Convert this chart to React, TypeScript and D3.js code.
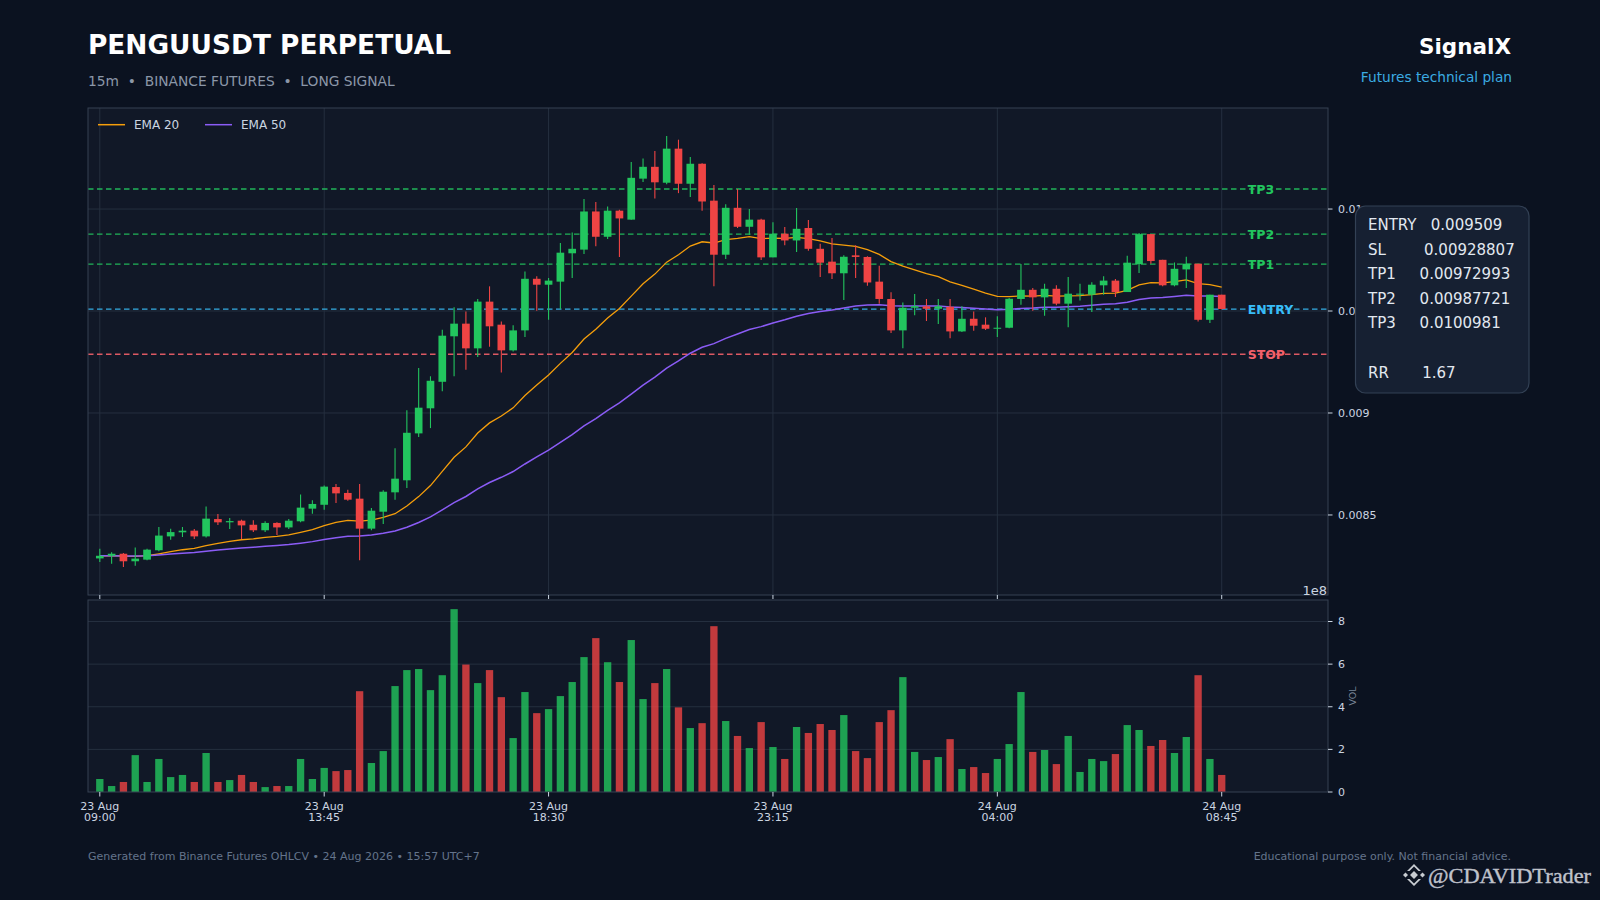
import { useEffect } from "react";
import * as d3 from "d3";

// 15m candles, 23 Aug 09:00 -> 24 Aug 08:45 (96 bars)
const opens = [
  0.008287, 0.0083, 0.00831, 0.008273, 0.008281, 0.008327, 0.008395, 0.008415, 0.008423, 0.008395,
  0.00848, 0.008464, 0.008472, 0.008452, 0.008425, 0.008461, 0.008439, 0.008469, 0.008531, 0.00855,
  0.008637, 0.008608, 0.00858, 0.008433, 0.008516, 0.008611, 0.00867, 0.0089, 0.009023, 0.009153,
  0.009376, 0.009438, 0.009317, 0.009546, 0.009433, 0.009307, 0.009405, 0.009658, 0.009629, 0.009644,
  0.009783, 0.009801, 0.009988, 0.009864, 0.009992, 0.009948, 0.010149, 0.010207, 0.010129, 0.010296,
  0.010124, 0.010222, 0.010041, 0.009776, 0.010006, 0.009913, 0.009948, 0.009763, 0.009879, 0.009846,
  0.009907, 0.009805, 0.009742, 0.009685, 0.009773, 0.009765, 0.009644, 0.009559, 0.009405, 0.009516,
  0.009523, 0.009511, 0.009521, 0.0094, 0.009462, 0.009433, 0.009413, 0.009418, 0.009559, 0.009604,
  0.009567, 0.009609, 0.009536, 0.00958, 0.00958, 0.009626, 0.009649, 0.009593, 0.00973, 0.009877,
  0.009751, 0.009626, 0.009704, 0.009732, 0.009457, 0.00958,
];
const highs = [
  0.008335, 0.008317, 0.008314, 0.008341, 0.008335, 0.008441, 0.008432, 0.008441, 0.008431, 0.008542,
  0.008505, 0.008485, 0.008477, 0.008474, 0.008469, 0.008464, 0.00848, 0.008601, 0.008572, 0.008644,
  0.008652, 0.008624, 0.008652, 0.008534, 0.008621, 0.008827, 0.009013, 0.00922, 0.00918, 0.009408,
  0.009519, 0.009498, 0.009559, 0.009621, 0.009449, 0.00943, 0.009694, 0.00967, 0.009662, 0.009833,
  0.009885, 0.010049, 0.010034, 0.010013, 0.009996, 0.01023, 0.010248, 0.010284, 0.010358, 0.01034,
  0.010255, 0.010225, 0.010118, 0.010024, 0.010098, 0.01, 0.009952, 0.009935, 0.009912, 0.010005,
  0.009946, 0.00983, 0.009858, 0.009774, 0.009822, 0.009768, 0.009722, 0.009592, 0.009542, 0.009583,
  0.009559, 0.009559, 0.009559, 0.009523, 0.009498, 0.009469, 0.009474, 0.009564, 0.00973, 0.009613,
  0.009634, 0.009626, 0.009667, 0.009634, 0.009641, 0.00967, 0.009657, 0.009771, 0.009882, 0.009877,
  0.009751, 0.009738, 0.009766, 0.009732, 0.00958, 0.00958,
];
const lows = [
  0.008269, 0.008261, 0.008245, 0.008251, 0.008278, 0.008322, 0.008379, 0.008392, 0.008382, 0.00839,
  0.008451, 0.008431, 0.008382, 0.008417, 0.008417, 0.008402, 0.008431, 0.008464, 0.008506, 0.008526,
  0.008559, 0.00857, 0.008278, 0.008425, 0.008456, 0.008575, 0.008632, 0.008882, 0.008926, 0.009106,
  0.00918, 0.009212, 0.009274, 0.009325, 0.009199, 0.009302, 0.009372, 0.009501, 0.009457, 0.00951,
  0.009662, 0.009779, 0.009817, 0.009853, 0.009765, 0.009948, 0.010132, 0.010052, 0.010122, 0.010078,
  0.010059, 0.009992, 0.009621, 0.009755, 0.009907, 0.009874, 0.00975, 0.009763, 0.009822, 0.009789,
  0.009796, 0.009667, 0.009657, 0.009554, 0.009662, 0.009624, 0.009536, 0.009392, 0.009318, 0.009479,
  0.009451, 0.009436, 0.009366, 0.009397, 0.009403, 0.009407, 0.009372, 0.009416, 0.009531, 0.009501,
  0.009477, 0.009528, 0.009421, 0.009551, 0.009495, 0.00958, 0.009569, 0.009593, 0.009686, 0.009732,
  0.009621, 0.009621, 0.009613, 0.009449, 0.009441, 0.009507,
];
const closes = [
  0.0083, 0.00831, 0.008273, 0.008286, 0.00833, 0.008399, 0.008416, 0.008423, 0.008395, 0.008482,
  0.008464, 0.00847, 0.008449, 0.008425, 0.008461, 0.008439, 0.008472, 0.008536, 0.008554, 0.008639,
  0.008606, 0.008575, 0.008433, 0.008521, 0.008614, 0.008678, 0.008903, 0.009026, 0.009158, 0.009379,
  0.009438, 0.009317, 0.009546, 0.009425, 0.009307, 0.009405, 0.009658, 0.009629, 0.009649, 0.009786,
  0.009805, 0.009988, 0.009864, 0.009992, 0.009954, 0.010153, 0.010207, 0.010131, 0.010296, 0.010124,
  0.010222, 0.010037, 0.009776, 0.010006, 0.009913, 0.009948, 0.009763, 0.009879, 0.009846, 0.009903,
  0.009805, 0.009737, 0.009685, 0.009766, 0.009765, 0.00964, 0.009559, 0.009405, 0.009516, 0.009524,
  0.009511, 0.009523, 0.0094, 0.009462, 0.009428, 0.009413, 0.009418, 0.00956, 0.009604, 0.009567,
  0.009609, 0.009536, 0.009585, 0.009585, 0.009629, 0.009649, 0.009593, 0.009737, 0.009877, 0.009745,
  0.009626, 0.009707, 0.009732, 0.009457, 0.00958, 0.00951,
];
// volume in units of 1e8
const volumes = [
  0.61, 0.28, 0.47, 1.73, 0.47, 1.55, 0.7, 0.8, 0.47, 1.83,
  0.47, 0.56, 0.8, 0.47, 0.23, 0.28, 0.28, 1.55, 0.61, 1.13,
  0.98, 1.03, 4.73, 1.36, 1.92, 4.97, 5.72, 5.77, 4.78, 5.48,
  8.58, 5.98, 5.11, 5.72, 4.45, 2.53, 4.69, 3.7, 3.89, 4.5,
  5.16, 6.33, 7.22, 6.09, 5.16, 7.13, 4.36, 5.11, 5.77, 3.97,
  3.0, 3.23, 7.78, 3.33, 2.63, 2.06, 3.28, 2.11, 1.55, 3.05,
  2.77, 3.19, 2.91, 3.61, 1.92, 1.59, 3.28, 3.84, 5.39, 1.88,
  1.5, 1.64, 2.48, 1.08, 1.17, 0.89, 1.55, 2.25, 4.69, 1.88,
  1.97, 1.31, 2.63, 0.94, 1.55, 1.45, 1.78, 3.14, 2.91, 2.16,
  2.44, 1.83, 2.58, 5.48, 1.55, 0.8,
];

const tickBars = [0, 19, 38, 57, 76, 95];
const tickDays = ["23 Aug", "23 Aug", "23 Aug", "23 Aug", "24 Aug", "24 Aug"];
const tickTimes = ["09:00", "13:45", "18:30", "23:15", "04:00", "08:45"];

const levelNames = ["TP3", "TP2", "TP1", "ENTRY", "STOP"];
const levelValues = [0.0100981, 0.00987721, 0.00972993, 0.009509, 0.00928807];

// plan box text, padded the way the source lays it out
const planLines = [
  "ENTRY   0.009509",
  "SL        0.00928807",
  "TP1     0.00972993",
  "TP2     0.00987721",
  "TP3     0.0100981",
  "",
  "RR       1.67",
];

const C = {
  page: "#0b1220",
  panel: "#111827",
  grid: "#252f3f",
  spine: "#364152",
  tick: "#cbd5e1",
  up: "#22c55e",
  down: "#ef4444",
  ema20: "#f59e0b",
  ema50: "#8b5cf6",
  entry: "#38bdf8",
  stop: "#f4606a",
};
const levelColor = (n: string) => (n === "ENTRY" ? C.entry : n === "STOP" ? C.stop : C.up);
const FONT = "DejaVu Sans, Verdana, sans-serif";

function ema(src: number[], span: number) {
  const a = 2 / (span + 1);
  const out: number[] = [];
  src.forEach((v, i) => out.push(i === 0 ? v : a * v + (1 - a) * out[i - 1]));
  return out;
}

export default function App() {
  useEffect(() => {
    document.body.style.margin = "0";
    document.body.style.background = C.page;
  }, []);

  const W = 1600, H = 900;
  const L = 88, R = 1328;
  const pTop = 108, pBot = 595;
  const vTop = 600, vBot = 792;
  const n = closes.length;

  const x = d3.scaleLinear().domain([-1, n + 8]).range([L, R]);
  const step = x(1) - x(0);

  const lo = d3.min(lows)!, hi = d3.max(highs)!;
  const pad = (hi - lo) * 0.065;
  const y = d3.scaleLinear().domain([lo - pad, hi + pad]).range([pBot, pTop]);
  const yv = d3.scaleLinear().domain([0, d3.max(volumes)! * 1.05]).range([vBot, vTop]);

  const e20 = ema(closes, 20), e50 = ema(closes, 50);
  const line = d3.line<number>().x((_, i) => x(i)).y((d) => y(d));

  const yTicks = y.ticks(5);
  const vTicks = yv.ticks(5);
  const fmt = d3.format("~g");
  const bw = step * 0.65;
  const vw = step * 0.62;

  return (
    <div style={{ position: "fixed", left: 0, top: 0, width: W, height: H, background: C.page }}>
      <svg width={W} height={H} fontFamily={FONT} style={{ display: "block" }}>
        <rect width={W} height={H} fill={C.page} />

        {/* header */}
        <text x={88} y={54} fill="#ffffff" fontSize={26.4} fontWeight="bold">PENGUUSDT PERPETUAL</text>
        <text x={88} y={85.5} fill="#8b97a8" fontSize={13.8} style={{ whiteSpace: "pre" }}>
          {"15m  •  BINANCE FUTURES  •  LONG SIGNAL"}
        </text>
        <text x={1511} y={54} fill="#ffffff" fontSize={21.5} fontWeight="bold" textAnchor="end">SignalX</text>
        <text x={1512} y={82} fill="#3babe2" fontSize={13.7} textAnchor="end">Futures technical plan</text>

        {/* price panel */}
        <rect x={L} y={pTop} width={R - L} height={pBot - pTop} fill={C.panel} />
        {yTicks.map((t) => (
          <line key={`pg${t}`} x1={L} x2={R} y1={y(t)} y2={y(t)} stroke={C.grid} strokeWidth={1} />
        ))}
        {tickBars.map((b) => (
          <line key={`xg${b}`} x1={x(b)} x2={x(b)} y1={pTop} y2={pBot} stroke={C.grid} strokeWidth={1} />
        ))}
        {levelNames.map((nm, i) => (
          <text key={`lt${nm}`} x={x(n + 1.2)} y={y(levelValues[i])} dy="0.36em" fill={levelColor(nm)}
            fontSize={12.5} fontWeight="bold">{nm}</text>
        ))}
        {levelNames.map((nm, i) => (
          <line key={`lv${nm}`} x1={L} x2={R} y1={y(levelValues[i])} y2={y(levelValues[i])}
            stroke={levelColor(nm)} strokeOpacity={0.9} strokeWidth={1.3} strokeDasharray="5.5 3.5" />
        ))}
        <path d={line(e20) ?? ""} fill="none" stroke={C.ema20} strokeWidth={1.3} />
        <path d={line(e50) ?? ""} fill="none" stroke={C.ema50} strokeWidth={1.5} />
        {closes.map((c, i) => {
          const o = opens[i];
          const col = c >= o ? C.up : C.down;
          const top = y(Math.max(o, c)), bot = y(Math.min(o, c));
          return (
            <g key={`c${i}`}>
              <line x1={x(i)} x2={x(i)} y1={y(highs[i])} y2={y(lows[i])} stroke={col} strokeWidth={1.1} />
              <rect x={x(i) - bw / 2} y={top} width={bw} height={Math.max(1, bot - top)} fill={col} />
            </g>
          );
        })}

        {/* legend */}
        <line x1={98} x2={125} y1={124.7} y2={124.7} stroke={C.ema20} strokeWidth={1.5} />
        <text x={134} y={129} fill="#cbd5e1" fontSize={12}>EMA 20</text>
        <line x1={205} x2={232} y1={124.7} y2={124.7} stroke={C.ema50} strokeWidth={1.5} />
        <text x={241} y={129} fill="#cbd5e1" fontSize={12}>EMA 50</text>

        <rect x={L} y={pTop} width={R - L} height={pBot - pTop} fill="none" stroke={C.spine} strokeWidth={1} />
        {tickBars.map((b) => (
          <line key={`pt${b}`} x1={x(b)} x2={x(b)} y1={pBot} y2={pBot + 4} stroke={C.tick} />
        ))}
        {yTicks.map((t) => (
          <g key={`py${t}`}>
            <line x1={R} x2={R + 4.5} y1={y(t)} y2={y(t)} stroke={C.tick} />
            <text x={R + 10} y={y(t)} dy="0.35em" fill={C.tick} fontSize={11}>{fmt(t)}</text>
          </g>
        ))}

        {/* volume panel */}
        <rect x={L} y={vTop} width={R - L} height={vBot - vTop} fill={C.panel} />
        {vTicks.filter((t) => t > 0).map((t) => (
          <line key={`vg${t}`} x1={L} x2={R} y1={yv(t)} y2={yv(t)} stroke={C.grid} strokeWidth={1} />
        ))}
        {volumes.map((v, i) => (
          <rect key={`v${i}`} x={x(i) - vw / 2} y={yv(v)} width={vw} height={vBot - yv(v)}
            fill={closes[i] >= opens[i] ? C.up : C.down} fillOpacity={0.8} />
        ))}
        <rect x={L} y={vTop} width={R - L} height={vBot - vTop} fill="none" stroke={C.spine} strokeWidth={1} />
        {vTicks.map((t) => (
          <g key={`vy${t}`}>
            <line x1={R} x2={R + 4.5} y1={yv(t)} y2={yv(t)} stroke={C.tick} />
            <text x={R + 10} y={yv(t)} dy="0.35em" fill={C.tick} fontSize={11}>{fmt(t)}</text>
          </g>
        ))}
        <text x={R - 1} y={595} fill={C.tick} fontSize={13} textAnchor="end">1e8</text>
        <text transform={`translate(1356,${(vTop + vBot) / 2}) rotate(-90)`} fill="#7c8798" fontSize={9.5}
          textAnchor="middle">VOL</text>
        {tickBars.map((b, k) => (
          <g key={`vt${b}`}>
            <line x1={x(b)} x2={x(b)} y1={vBot} y2={vBot + 4.5} stroke={C.tick} />
            <text x={x(b)} y={809.5} fill={C.tick} fontSize={11} textAnchor="middle">{tickDays[k]}</text>
            <text x={x(b)} y={821} fill={C.tick} fontSize={11} textAnchor="middle">{tickTimes[k]}</text>
          </g>
        ))}

        {/* plan box */}
        <rect x={1355.5} y={206} width={173.5} height={187} rx={10} fill="#162032" stroke="#334155" strokeWidth={1.2} />
        {planLines.map((s, i) => (
          <text key={`pl${i}`} x={1368} y={230 + i * 24.6} fill="#e2e8f0" fontSize={15}
            style={{ whiteSpace: "pre" }}>{s}</text>
        ))}

        {/* footer */}
        <text x={88} y={860} fill="#64748b" fontSize={11}>
          Generated from Binance Futures OHLCV • 24 Aug 2026 • 15:57 UTC+7
        </text>
        <text x={1511} y={860} fill="#64748b" fontSize={11} textAnchor="end">
          Educational purpose only. Not financial advice.
        </text>

        {/* watermark */}
        <g transform="translate(1414,875)" fill="#d9dce1" stroke="none" opacity={0.92}>
          <rect x={-2.8} y={-2.8} width={5.6} height={5.6} transform="rotate(45)" />
          <rect x={-1.8} y={-1.8} width={3.6} height={3.6} transform="translate(-8.5,0) rotate(45)" />
          <rect x={-1.8} y={-1.8} width={3.6} height={3.6} transform="translate(8.5,0) rotate(45)" />
          <path d="M0,-11 L7,-4 L4.5,-4 L0,-8.5 L-4.5,-4 L-7,-4 Z" />
          <path d="M0,11 L7,4 L4.5,4 L0,8.5 L-4.5,4 L-7,4 Z" />
        </g>
        <text x={1428} y={883} fill="#d9dce1" fontSize={21} fontFamily="Liberation Serif, serif"
          textLength={163} lengthAdjust="spacingAndGlyphs" stroke="#d9dce1" strokeWidth={0.4}
          opacity={0.88}>@CDAVIDTrader</text>
      </svg>
    </div>
  );
}
